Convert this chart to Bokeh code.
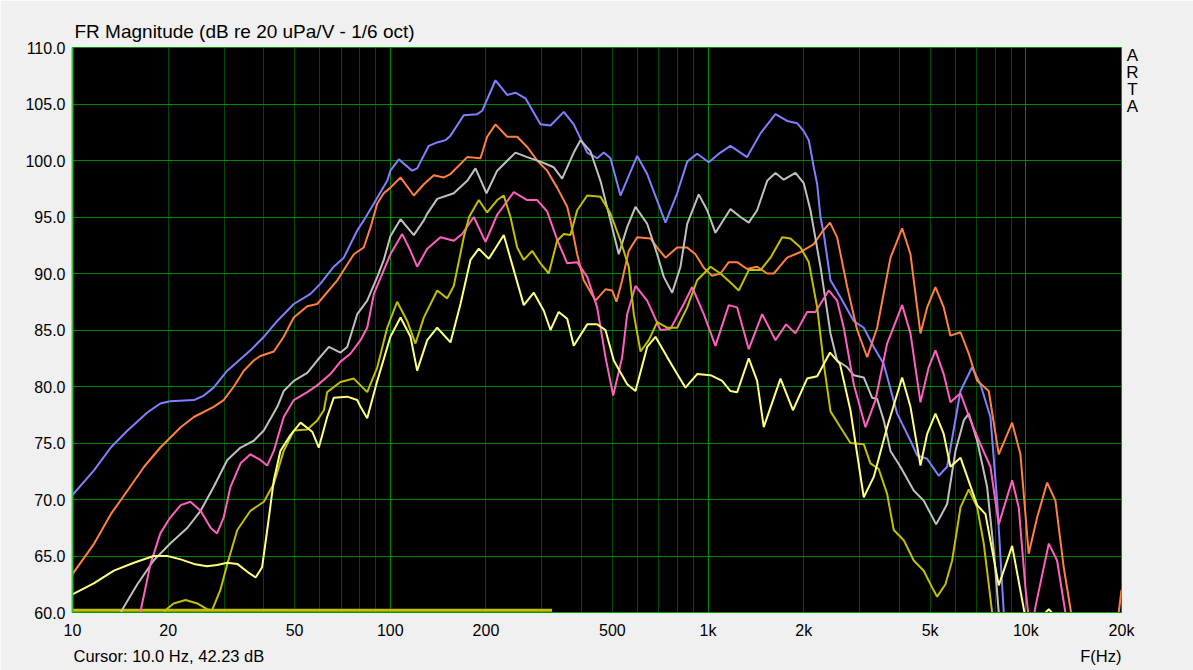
from bokeh.plotting import figure
from bokeh.models import Range1d, FixedTicker, Grid, Label, PrintfTickFormatter
from bokeh.embed import file_html
from bokeh.resources import INLINE

# ---- data: (frequency Hz, level dB) ----
blue = [(10, 70.4), (11.7, 72.6), (13.2, 74.6), (14.9, 76.1), (17.2, 77.7), (18.9, 78.5), (20.3, 78.7),
        (24.1, 78.8), (25.9, 79.2), (27.8, 79.9), (30.7, 81.4), (36.3, 83.2), (40.0, 84.4), (44.1, 85.8),
        (49.7, 87.3), (56.1, 88.2), (60.3, 89.1), (66.4, 90.6), (71.4, 91.4), (78.7, 93.8), (82.5, 94.7),
        (88.8, 96.2), (97.8, 98.2), (100.1, 99.1), (106.4, 100.1), (117.2, 99.1), (121.5, 99.3),
        (132.2, 101.3), (140.5, 101.6), (149.2, 101.8), (154.7, 102.2), (170.3, 104.0), (187.7, 104.1),
        (194.6, 104.4), (214.3, 107.1), (233.3, 105.8), (247.7, 106.0), (266.3, 105.5), (296.9, 103.2),
        (319.3, 103.1), (351.6, 104.3), (377.9, 103.2), (416.6, 100.7), (447.8, 100.2), (469.7, 100.7),
        (493.1, 100.2), (530.1, 96.9), (598.4, 100.4), (643.3, 98.8), (734.5, 94.5), (799.5, 97.1),
        (859.8, 99.9), (923.9, 100.6), (1005, 99.85), (1094, 100.7), (1176, 101.3), (1327, 100.3),
        (1462, 102.4), (1630, 104.1), (1774, 103.5), (1907, 103.3), (2000, 102.6), (2075, 101.8),
        (2151, 99.4), (2205, 97.9), (2258, 95.0), (2313, 93.5), (2428, 89.4), (2610, 87.9), (2874, 85.8),
        (3090, 85.2), (3322, 83.5), (3572, 82.0), (3936, 77.6), (4335, 75.2), (4550, 73.9), (4892, 73.6),
        (5320, 72.1), (5654, 72.9), (6228, 79.6), (6776, 81.7), (7195, 80.2), (7737, 77.3), (8122, 69.9),
        (8521, 60.0), (8700, 56.0)]

orange = [(10, 63.4), (11.7, 66.1), (13.2, 68.7), (14.9, 70.8), (16.8, 72.9), (18.9, 74.6), (21.9, 76.4),
          (24.1, 77.3), (27.8, 78.2), (29.9, 78.8), (32.2, 80.0), (34.6, 81.4), (37.2, 82.3), (39.0, 82.7),
          (43.0, 83.1), (46.2, 84.4), (47.4, 85.0), (49.7, 86.1), (54.8, 87.1), (58.9, 87.3), (68.1, 89.4),
          (76.8, 91.7), (82.5, 92.3), (86.7, 94.1), (91.0, 96.2), (95.4, 97.1), (100.1, 97.6), (107.7, 98.5),
          (118.6, 96.9), (127.5, 97.9), (137.1, 98.7), (147.4, 98.5), (154.7, 98.8), (174.6, 100.3),
          (192.2, 100.2), (201.8, 102.1), (214.3, 103.2), (233.3, 102.1), (250.8, 102.1), (269.7, 101.2),
          (289.9, 100.0), (311.6, 99.1), (335.0, 97.6), (360.4, 95.9), (369.0, 94.7), (387.4, 91.7),
          (406.3, 89.4), (442.3, 87.6), (475.5, 88.6), (499.2, 88.5), (514.9, 87.5), (536.7, 89.4),
          (562.9, 92.0), (598.4, 93.2), (658.8, 93.1), (691.7, 92.3), (734.5, 91.4), (799.5, 92.3),
          (859.8, 92.3), (912.9, 91.7), (969.4, 90.5), (1030, 89.8), (1094, 90.0), (1162, 91.0),
          (1235, 91.0), (1327, 90.4), (1427, 90.6), (1535, 90.0), (1610, 90.0), (1774, 91.4), (1954, 91.9),
          (2151, 92.6), (2286, 93.7), (2420, 94.5), (2548, 93.2), (2741, 88.8), (2946, 85.0), (3167, 82.6),
          (3405, 85.2), (3750, 91.4), (4081, 94.0), (4335, 91.7), (4660, 84.7), (4892, 87.0), (5195, 88.8),
          (5516, 87.0), (5790, 84.5), (6228, 84.8), (6613, 82.9), (7029, 80.5), (7644, 79.6), (8218, 74.0),
          (9056, 76.8), (9617, 74.0), (10210, 65.2), (10850, 68.4), (11670, 71.5), (12390, 69.9),
          (13160, 64.0), (13880, 60.0), (14400, 55.0), (19000, 55.0), (19600, 60.0), (20000, 62.0)]

gray = [(13.5, 58.0), (14.3, 60.2), (16.0, 62.5), (18.0, 64.6), (20.3, 66.1), (23.0, 67.5), (25.3, 69.0),
        (27.8, 71.1), (30.7, 73.5), (33.8, 74.6), (37.2, 75.2), (40.0, 76.1), (44.1, 78.2), (46.2, 79.6),
        (49.7, 80.5), (54.8, 81.2), (58.9, 82.3), (64.1, 83.5), (69.7, 83.0), (73.2, 83.5), (78.7, 86.4),
        (84.6, 87.6), (91.0, 89.7), (95.4, 91.2), (100.1, 93.3), (107.7, 94.8), (118.6, 93.4),
        (127.5, 94.7), (130.7, 95.3), (140.5, 96.6), (151.0, 96.9), (158.4, 97.1), (174.6, 98.2),
        (185.4, 99.3), (200.8, 97.1), (217.0, 99.1), (247.7, 100.7), (269.7, 100.3), (296.9, 99.9),
        (326.9, 99.4), (347.4, 98.4), (377.9, 100.7), (396.8, 101.8), (426.6, 100.8), (458.6, 98.2),
        (493, 94.7), (523.6, 91.7), (556.5, 94.1), (591.1, 95.9), (643.3, 94.4), (691.7, 91.7),
        (725.5, 89.7), (771, 88.3), (819, 90.6), (859.8, 94.4), (934.8, 97.0), (993.6, 95.6), (1055, 93.6),
        (1176, 95.7), (1265, 95.0), (1343, 94.5), (1427, 95.6), (1535, 98.2), (1630, 98.9), (1731, 98.3),
        (1884, 98.9), (2000, 98.0), (2100, 95.6), (2258, 90.6), (2428, 84.7), (2548, 82.3), (2741, 81.7),
        (2874, 81.0), (3090, 80.8), (3284, 79.0), (3405, 78.9), (3572, 77.0), (3750, 74.3), (4031, 72.9),
        (4438, 70.8), (4771, 69.9), (5222, 67.8), (5654, 69.6), (6007, 74.3), (6378, 77.0), (6613, 77.6),
        (7029, 75.2), (7554, 71.1), (7925, 65.5), (8218, 60.0), (8400, 56.0)]

pink = [(15.8, 57.0), (16.4, 60.2), (17.6, 64.3), (18.9, 67.0), (20.3, 68.4), (21.9, 69.5), (23.5, 69.8),
        (25.3, 69.0), (27.2, 67.5), (28.5, 67.0), (29.9, 68.4), (31.4, 71.1), (33.8, 73.2), (36.3, 74.0),
        (39.0, 73.5), (41.0, 73.0), (43.0, 74.3), (46.2, 77.3), (49.7, 78.8), (54.8, 79.5), (58.9, 80.1),
        (64.8, 81.1), (69.7, 82.2), (74.9, 82.9), (80.6, 84.1), (84.6, 85.2), (88.8, 88.2), (95.4, 90.3),
        (100.1, 91.7), (109.0, 93.5), (115.8, 92.0), (121.5, 90.6), (130.7, 92.2), (143.9, 93.2),
        (158.4, 92.9), (168.3, 93.5), (183.1, 95.0), (199.4, 92.8), (217.0, 95.2), (244.7, 97.2),
        (269.7, 96.5), (289.9, 96.5), (311.6, 95.5), (335.0, 93.0), (360.4, 90.9), (387.4, 91.0),
        (416.6, 89.7), (447.8, 87.0), (475.5, 82.6), (502.9, 79.2), (536.7, 82.6), (556.5, 86.4),
        (591.1, 88.9), (643.3, 87.6), (708.4, 85.0), (761.4, 85.1), (838.6, 87.3), (891.3, 88.8),
        (969.4, 86.4), (1055, 83.6), (1162, 87.2), (1235, 87.0), (1343, 83.3), (1480, 86.4), (1630, 84.1),
        (1760, 85.5), (1884, 84.7), (2050, 86.6), (2178, 86.6), (2398, 88.5), (2548, 87.6), (2673, 85.2),
        (2874, 80.2), (3129, 76.4), (3364, 78.8), (3660, 83.8), (4081, 87.2), (4335, 84.7), (4660, 78.6),
        (4948, 81.7), (5195, 83.2), (5516, 81.1), (5790, 78.6), (6228, 79.4), (6694, 77.0), (7195, 74.9),
        (7737, 72.9), (8218, 67.8), (9056, 71.7), (9500, 69.3), (9970, 62.2), (10210, 59.5),
        (10450, 58.5), (10720, 60.5), (11810, 66.1), (12540, 64.6), (13320, 60.0), (13700, 56.0)]

olive = [(19.0, 58.5), (19.6, 60.2), (20.8, 60.8), (22.7, 61.1), (24.7, 60.8), (26.5, 60.3), (27.5, 60.2),
         (29.2, 62.0), (30.7, 64.3), (33.0, 67.3), (36.3, 69.0), (40.0, 69.8), (43.0, 71.4), (46.2, 74.3),
         (49.7, 76.1), (54.8, 76.2), (58.9, 77.0), (61.8, 77.9), (63.3, 79.5), (69.7, 80.4), (76.8, 80.7),
         (84.6, 79.5), (91.0, 81.7), (97.8, 85.2), (105.1, 87.5), (113.0, 85.8), (120.0, 83.8),
         (127.5, 86.1), (140.5, 88.5), (151.0, 87.8), (158.4, 88.9), (170.3, 93.2), (177.0, 95.0),
         (189.9, 96.5), (201.8, 95.4), (217.0, 96.5), (227.6, 96.9), (238.9, 95.0), (250.8, 92.3),
         (263.1, 91.2), (279.6, 92.0), (296.9, 90.9), (315.3, 90.0), (335.0, 92.9), (351.6, 93.5),
         (369.0, 93.4), (387.4, 95.6), (416.6, 96.9), (458.6, 96.8), (493, 95.3), (530.1, 92.9),
         (562.9, 90.6), (583.9, 86.4), (612.9, 83.1), (650.9, 84.1), (691.7, 85.7), (743.5, 85.2),
         (799.5, 85.2), (859.8, 87.0), (923.9, 89.4), (1018, 90.6), (1094, 90.0), (1176, 89.2),
         (1249, 88.5), (1343, 90.3), (1462, 90.3), (1572, 91.4), (1711, 93.2), (1817, 93.1), (1954, 92.3),
         (2075, 91.0), (2205, 87.0), (2313, 82.0), (2428, 77.8), (2610, 76.4), (2806, 75.0), (3090, 74.9),
         (3243, 73.2), (3444, 72.7), (3660, 70.5), (3840, 67.3), (4128, 66.4), (4438, 64.6), (4771, 63.7),
         (5073, 62.2), (5259, 61.4), (5585, 62.5), (5863, 64.6), (6228, 69.3), (6613, 70.9), (7029, 69.3),
         (7372, 66.1), (7834, 60.0), (8000, 57.0)]

yellow = [(10, 61.6), (11.7, 62.6), (13.5, 63.7), (15.6, 64.4), (18.0, 65.0), (19.9, 65.0), (21.9, 64.7),
          (24.1, 64.3), (26.5, 64.1), (28.5, 64.2), (30.7, 64.4), (33.0, 64.3), (35.5, 63.6), (37.7, 63.1),
          (39.5, 64.0), (41.0, 67.3), (43.0, 71.7), (45.1, 74.3), (48.5, 75.7), (52.2, 76.8), (56.8, 76.0),
          (59.6, 74.6), (63.3, 77.3), (66.4, 79.0), (73.2, 79.1), (78.7, 78.8), (80.6, 78.2), (84.6, 77.2),
          (91.0, 80.5), (100.1, 84.4), (107.7, 86.1), (115.8, 84.4), (121.5, 81.4), (130.7, 84.1),
          (140.5, 85.2), (154.7, 83.9), (166.3, 87.3), (178.8, 91.2), (189.9, 92.2), (204.2, 91.3),
          (227.6, 93.4), (244.7, 90.3), (263.1, 87.2), (282.9, 88.3), (304.1, 86.7), (319.3, 85.0),
          (338.9, 86.6), (360.4, 86.0), (377.9, 83.6), (416.6, 85.5), (447.8, 85.5), (475.5, 85.0),
          (505.1, 82.3), (556.5, 80.2), (591.1, 79.6), (643.3, 83.5), (683.2, 84.4), (743.5, 82.6),
          (799.5, 81.1), (849.1, 79.9), (923.9, 81.1), (1018, 81.0), (1108, 80.5), (1176, 79.6),
          (1235, 79.5), (1343, 82.5), (1427, 80.5), (1497, 76.4), (1690, 80.7), (1850, 77.9), (2050, 80.7),
          (2205, 80.9), (2420, 83.0), (2600, 82.0), (2806, 77.9), (3090, 70.2), (3322, 72.0), (3660, 76.4),
          (4081, 80.8), (4335, 78.2), (4660, 73.0), (4892, 75.8), (5195, 77.6), (5516, 75.8), (5790, 72.9),
          (6228, 73.7), (7029, 69.5), (7464, 68.7), (8218, 62.4), (9056, 65.9), (9900, 60.0),
          (10300, 56.0), (11450, 59.9), (11810, 60.3), (12150, 59.9), (12600, 56.0)]

floor_line = [(10, 60.2), (323, 60.2)]

x_ticks = [10, 20, 50, 100, 200, 500, 1000, 2000, 5000, 10000, 20000]
x_labels = ["10", "20", "50", "100", "200", "500", "1k", "2k", "5k", "10k", "20k"]
y_ticks = [60, 65, 70, 75, 80, 85, 90, 95, 100, 105, 110]
x_major_grid = [10, 100, 1000, 10000]
x_minor_grid = [20, 30, 40, 50, 60, 70, 80, 90, 200, 300, 400, 500, 600, 700, 800, 900,
                2000, 3000, 4000, 5000, 6000, 7000, 8000, 9000, 20000]

title_text = "FR Magnitude (dB re 20 uPa/V - 1/6 oct)"
cursor_text = "Cursor: 10.0 Hz, 42.23 dB"
xlabel_text = "F(Hz)"
brand_text = "ARTA"

FONT = "Liberation Sans"

p = figure(width=1193, height=670, x_axis_type="log",
           x_range=Range1d(10, 20000), y_range=Range1d(60, 110),
           output_backend="svg", toolbar_location=None,
           min_border_left=72, min_border_right=72, min_border_top=47, min_border_bottom=58,
           background_fill_color="black", border_fill_color="#f0f0f0")

p.xgrid.visible = False
p.ygrid.visible = False
p.outline_line_color = "#009000"
p.outline_line_width = 1

p.add_layout(Grid(dimension=0, ticker=FixedTicker(ticks=x_minor_grid),
                  grid_line_color="#004a00", grid_line_width=1))
p.add_layout(Grid(dimension=0, ticker=FixedTicker(ticks=x_major_grid),
                  grid_line_color="#008800", grid_line_width=1))
p.add_layout(Grid(dimension=1, ticker=FixedTicker(ticks=y_ticks),
                  grid_line_color="#008800", grid_line_width=1))

xa = p.xaxis[0]
xa.ticker = FixedTicker(ticks=x_ticks)
xa.major_label_overrides = {t: l for t, l in zip(x_ticks, x_labels)}
ya = p.yaxis[0]
ya.ticker = FixedTicker(ticks=y_ticks)
ya.formatter = PrintfTickFormatter(format="%.1f")
for ax in (xa, ya):
    ax.major_tick_line_color = None
    ax.minor_tick_line_color = None
    ax.major_label_text_font = FONT
    ax.major_label_text_font_size = "16px"
    ax.major_label_text_color = "black"
xa.axis_line_color = "#00a000"
xa.major_label_standoff = 3
ya.axis_line_color = "#30c030"
ya.axis_line_width = 2
ya.major_label_standoff = 1


def split(pairs):
    return [a for a, _ in pairs], [b for _, b in pairs]


fx, fy = split(floor_line)
p.line(fx, fy, line_color="#c0c000", line_width=3)

series = [(blue, "#8080ff"), (orange, "#ff8040"), (gray, "#c0c0c0"),
          (pink, "#ff60c0"), (olive, "#c0c000"), (yellow, "#ffff80")]
for data, color in series:
    xs, ys = split(data)
    p.line(xs, ys, line_color=color, line_width=2)

# texts outside the frame live in side panels so that they are not clipped
p.add_layout(Label(x=10, y=110, x_offset=2, y_offset=16, text=title_text,
                   text_font=FONT, text_font_size="19px", text_color="black",
                   text_align="left", text_baseline="alphabetic"), "above")
p.add_layout(Label(x=20000, y=60, x_offset=0, y_offset=-43, text=xlabel_text,
                   text_font=FONT, text_font_size="16.5px", text_color="black",
                   text_align="right", text_baseline="alphabetic"), "above")
p.add_layout(Label(x=10, y=60, x_offset=1, y_offset=-43, text=cursor_text,
                   text_font=FONT, text_font_size="16.5px", text_color="black",
                   text_align="left", text_baseline="alphabetic"), "below")
for i, ch in enumerate(brand_text):
    p.add_layout(Label(x=20000, y=110, x_offset=11, y_offset=-8 - 17 * i, text=ch,
                       text_font=FONT, text_font_size="17px", text_color="black",
                       text_align="center", text_baseline="alphabetic"), "right")

open("out.html", "w").write(file_html(p, INLINE))
